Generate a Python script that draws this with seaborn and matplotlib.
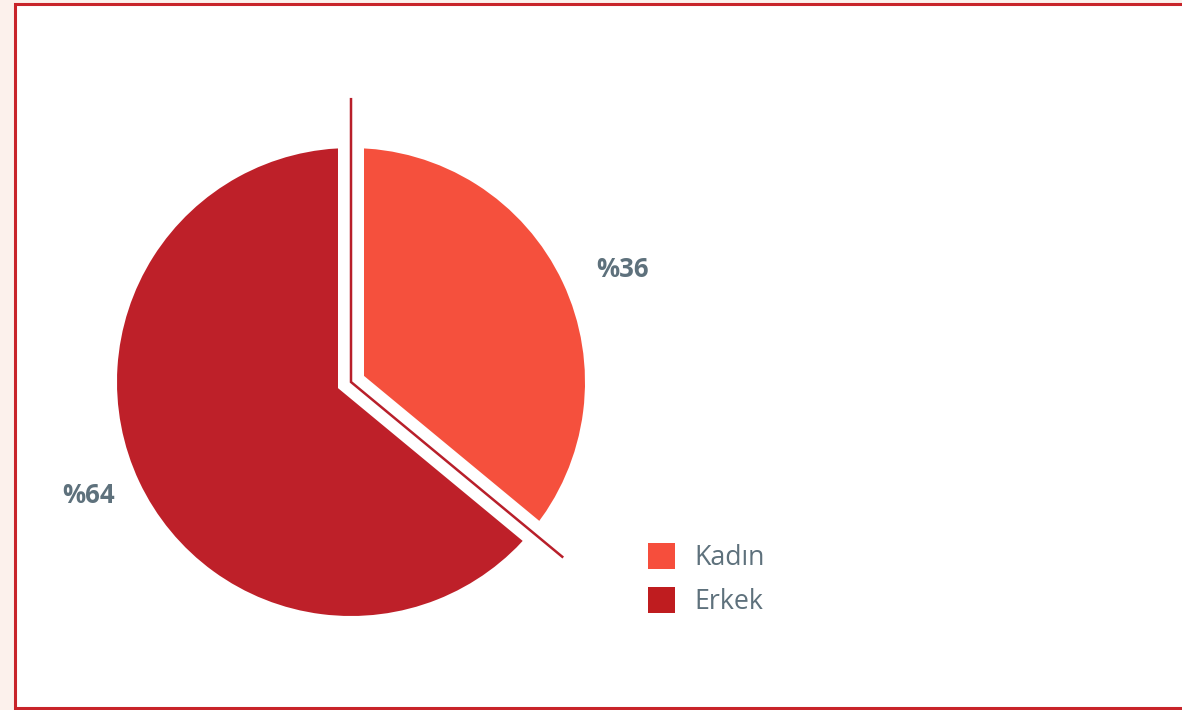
import numpy as np
import matplotlib
matplotlib.use("Agg")
import matplotlib.pyplot as plt
import seaborn as sns
from matplotlib.patches import Rectangle, Patch

# ---- data ----
categories = ["Kadın", "Erkek"]
values = [36, 64]
pct_labels = ["%36", "%64"]

# ---- style ----
slice_colors = ["#F5503D", "#BE2029"]
legend_colors = ["#F64E3C", "#BF1C1F"]
label_dist = [1.16, 1.115]
sep_len = [1.214, 1.177]
text_color = "#5E717C"
line_color = "#B81F2A"

sns.set_theme(style="white")
plt.rcParams["font.family"] = ["Open Sans", "DejaVu Sans"]

W, H = 1182, 710
fig = plt.figure(figsize=(W / 100, H / 100), dpi=100, facecolor="#FCF1EC")

# frame
fig.add_artist(Rectangle((15 / W, 2.5 / H), (W + 20 - 15) / W, (706 - 2.5) / H,
                         transform=fig.transFigure, facecolor="white",
                         edgecolor="#C8242A", linewidth=2.2, zorder=0))

# pie axes: centre (351, 382) px from top, radius 234 px
cx, cy, R = 351, H - 382, 234
lim = 1.3
S = 2 * lim * R
ax = fig.add_axes([(cx - S / 2) / W, (cy - S / 2) / H, S / W, S / H])

wedges, _ = ax.pie(values, colors=slice_colors, startangle=90, counterclock=False,
                   radius=1, wedgeprops=dict(linewidth=0))
ax.set_xlim(-lim, lim)
ax.set_ylim(-lim, lim)
ax.set_aspect("equal")
ax.axis("off")

# separators along slice boundaries (angles derived from data)
total = sum(values)
bounds = [90 - 360 * np.cumsum([0] + values[:-1])[i] / total for i in range(len(values))]
a1 = np.deg2rad(bounds[0])
a2 = np.deg2rad(bounds[1])
px = lambda v: v * 72 / 100
xs = [sep_len[0] * 1.2 * np.cos(a1), 0, sep_len[1] * 1.2 * np.cos(a2)]
ys = [sep_len[0] * 1.2 * np.sin(a1), 0, sep_len[1] * 1.2 * np.sin(a2)]
ax.plot(xs, ys, color="white", lw=px(26), solid_joinstyle="miter",
        solid_capstyle="butt", zorder=3)
xs = [sep_len[0] * np.cos(a1), 0, sep_len[1] * np.cos(a2)]
ys = [sep_len[0] * np.sin(a1), 0, sep_len[1] * np.sin(a2)]
ax.plot(xs, ys, color=line_color, lw=px(2.5), solid_joinstyle="miter",
        solid_capstyle="butt", zorder=4)

# percentage labels
start = 90
for i, v in enumerate(values):
    mid = np.deg2rad(start - 360 * v / total / 2)
    start -= 360 * v / total
    x, y = label_dist[i] * np.cos(mid), label_dist[i] * np.sin(mid)
    ax.text(x, y - 0.012, pct_labels[i], ha="left" if x > 0 else "right", va="center",
            fontsize=18.5, fontweight="bold", color=text_color, zorder=5)

# legend
handles = [Patch(facecolor=c, edgecolor="none") for c in legend_colors]
fig.legend(handles, categories, loc="upper left",
           bbox_to_anchor=(648 / W, 1 - 543 / H), frameon=False,
           fontsize=19.3, labelcolor=text_color, handlelength=1.0,
           handleheight=1.12, handletextpad=0.72, labelspacing=0.55,
           borderpad=0, borderaxespad=0)

fig.savefig("out.png", dpi=100, facecolor=fig.get_facecolor())
